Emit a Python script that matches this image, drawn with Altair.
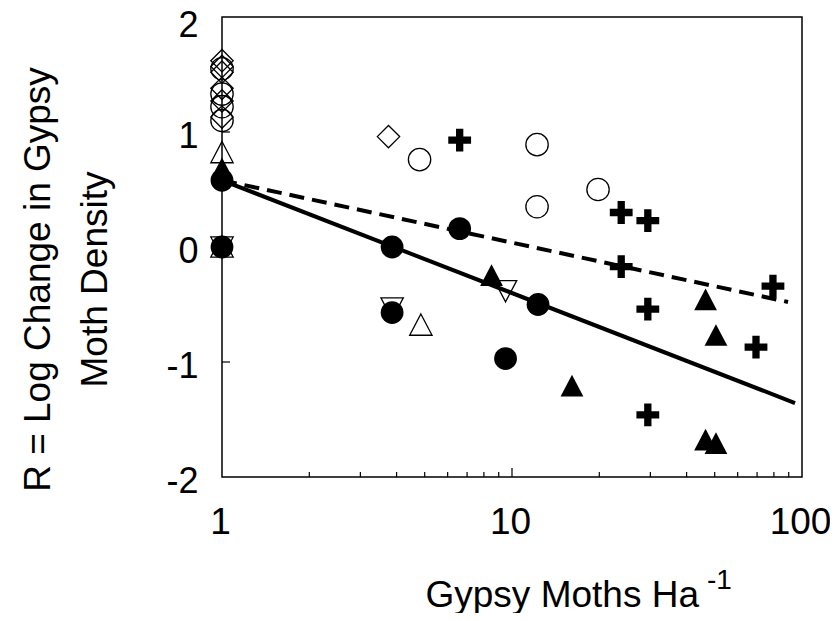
import altair as alt
import pandas as pd

# ---------------- data ----------------
open_diamond_x = [1, 1, 1, 1, 1, 1, 3.75]
open_diamond_y = [1.62, 1.57, 1.52, 1.38, 1.27, 1.13, 0.96]

open_circle_x = [1, 1, 1, 1, 4.8, 12.2, 12.2, 19.8]
open_circle_y = [1.55, 1.33, 1.22, 1.10, 0.76, 0.89, 0.35, 0.50]

plus_x = [6.6, 23.8, 29.4, 23.8, 29.4, 29.4, 69.4, 79.4]
plus_y = [0.93, 0.30, 0.23, -0.17, -0.54, -1.46, -0.87, -0.34]

filled_circle_x = [1, 1, 3.86, 6.6, 12.3, 9.5, 3.86]
filled_circle_y = [0.58, 0.0, 0.0, 0.16, -0.50, -0.97, -0.57]

filled_triangle_x = [1, 8.5, 16.1, 46.5, 50.5, 46.5, 50.5]
filled_triangle_y = [0.68, -0.25, -1.21, -0.46, -0.77, -1.68, -1.71]

open_tri_up_x = [1, 1, 4.85]
open_tri_up_y = [0.82, 0.0, -0.68]

open_tri_down_x = [1, 9.5, 3.86]
open_tri_down_y = [0.0, -0.38, -0.53]

solid_line_x = [1, 94.6]
solid_line_y = [0.58, -1.357]
dashed_line_x = [1, 89.5]
dashed_line_y = [0.58, -0.478]

x_tick_labels = [1, 10, 100]
y_tick_labels = [-2, -1, 0, 1, 2]
x_minor_ticks = [2, 3, 4, 5, 6, 7, 8, 9, 20, 30, 40, 50, 60, 70, 80, 90]
x_major_inner = [10]
y_inner_ticks = [-1, 0, 1]

# ---------------- tables ----------------
def frame(name, xs, ys):
    return pd.DataFrame({"x": xs, "y": ys, "series": name})

filled_df = pd.concat([
    frame("plus", plus_x, plus_y),
    frame("filled triangle", filled_triangle_x, filled_triangle_y),
    frame("filled circle", filled_circle_x, filled_circle_y),
], ignore_index=True)

open_df = pd.concat([
    frame("open diamond", open_diamond_x, open_diamond_y),
    frame("open circle", open_circle_x, open_circle_y),
    frame("open triangle up", open_tri_up_x, open_tri_up_y),
    frame("open triangle down", open_tri_down_x, open_tri_down_y),
], ignore_index=True)

solid_df = pd.DataFrame({"x": solid_line_x, "y": solid_line_y})
dashed_df = pd.DataFrame({"x": dashed_line_x, "y": dashed_line_y})

xminor_df = pd.DataFrame({"x": x_minor_ticks, "y": [y_tick_labels[0]] * len(x_minor_ticks)})
xmajor_df = pd.DataFrame({"x": x_major_inner, "y": [y_tick_labels[0]] * len(x_major_inner)})
yt_df = pd.DataFrame({"x": [x_tick_labels[0]] * len(y_inner_ticks), "y": y_inner_ticks})

PLUS = "M-1,-0.32H-0.32V-1H0.32V-0.32H1V0.32H0.32V1H-0.32V0.32H-1Z"
TRI_UP = "M0,-1L1,0.9L-1,0.9Z"
TRI_DOWN = "M-1,-0.9L1,-0.9L0,1Z"

shape_scale = alt.Scale(
    domain=["plus", "filled triangle", "filled circle", "open diamond",
            "open circle", "open triangle up", "open triangle down"],
    range=[PLUS, TRI_UP, "circle", "diamond", "circle", TRI_UP, TRI_DOWN],
)

FONT = "Liberation Sans"
xscale = alt.Scale(type="log", domain=[1, 100])
yscale = alt.Scale(domain=[-2, 2], nice=False, zero=False)

xaxis = alt.Axis(
    values=x_tick_labels, labelExpr="'' + datum.value", ticks=False, domain=False,
    grid=False, labelFontSize=37, labelPadding=27, labelOffset=-2, labelFlush=False,
    labelOverlap=False,
    title="Gypsy Moths Ha", titleFontSize=37, titleFontWeight="normal",
    titleX=203, titleY=129, titleAlign="left", titleBaseline="alphabetic",
)
yaxis = alt.Axis(
    values=y_tick_labels, labelExpr="'' + datum.value", ticks=False, domain=False,
    grid=False, labelFontSize=36, labelPadding=24,
    labelOffset={"condition": {"test": "datum.value == 2", "value": 8}, "value": 4},
    labelFlush=False, labelOverlap=False,
    title=["R = Log Change in Gypsy", "Moth Density"], titleFontSize=37,
    titleFontWeight="normal", titleX=-202, titleY=262, titleAngle=270,
    titleAlign="center", titleBaseline="top", titleLineHeight=57,
)

X = alt.X("x:Q", scale=xscale, axis=xaxis)
Y = alt.Y("y:Q", scale=yscale, axis=yaxis)

solid = alt.Chart(solid_df).mark_line(color="black", strokeWidth=4).encode(x=X, y=Y)
dashed = alt.Chart(dashed_df).mark_line(color="black", strokeWidth=4, strokeDash=[15, 8]).encode(x=X, y=Y)

open_pts = alt.Chart(open_df).mark_point(
    filled=False, color="black", strokeWidth=1.3, opacity=1, size=500
).encode(x=X, y=Y, shape=alt.Shape("series:N", scale=shape_scale, legend=None))

filled_pts = alt.Chart(filled_df).mark_point(
    filled=True, color="black", opacity=1, size=520
).encode(x=X, y=Y, shape=alt.Shape("series:N", scale=shape_scale, legend=None))

xminor = alt.Chart(xminor_df).mark_rule(color="black", strokeWidth=1.2, y2Offset=-5).encode(
    x=X, y=Y, y2=alt.Y2("y:Q"))
xmajor = alt.Chart(xmajor_df).mark_rule(color="black", strokeWidth=1.2, y2Offset=-9).encode(
    x=X, y=Y, y2=alt.Y2("y:Q"))
yticks = alt.Chart(yt_df).mark_rule(color="black", strokeWidth=1.2, x2Offset=8).encode(
    x=X, x2=alt.X2("x:Q"), y=Y)

sup = alt.Chart(pd.DataFrame({"t": ["-1"]})).mark_text(
    font=FONT, fontSize=28, align="left", baseline="alphabetic", color="black"
).encode(text="t:N", x=alt.value(485), y=alt.value(572))

chart = alt.layer(
    xminor, xmajor, yticks, solid, dashed, open_pts, filled_pts, sup
).properties(
    width=580, height=460,
    autosize=alt.AutoSizeParams(type="none"),
    padding={"left": 214, "top": 9, "right": 28, "bottom": 136},
).configure_view(
    stroke="black", strokeWidth=1.5
).configure_axis(
    labelFont=FONT, titleFont=FONT, labelColor="black", titleColor="black"
)

chart.save("out.html", embed_options={"renderer": "svg", "actions": False})
